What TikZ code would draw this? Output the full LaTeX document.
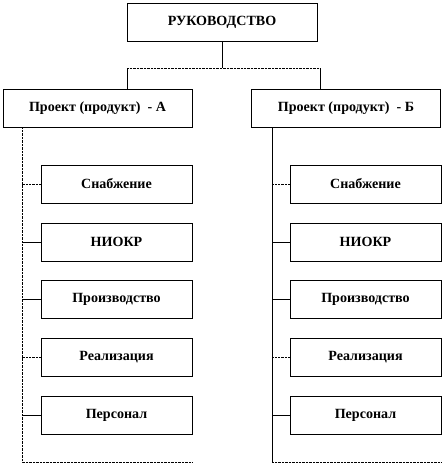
\documentclass[tikz,border=0pt]{standalone}
\usepackage{fontspec}
\setmainfont{Liberation Serif}
\usetikzlibrary{positioning,calc}
\tikzset{
  unit/.style={draw,line width=0.6pt,minimum height=1.14cm,inner sep=0pt,
    font=\fontsize{12}{14}\selectfont\bfseries},
  head/.style={unit,minimum width=5.7cm},
  proj/.style={unit,minimum width=5.67cm},
  dept/.style={unit,minimum width=4.53cm},
  link/.style={line width=0.6pt},
  fdot/.style={line width=0.6pt,dash pattern=on 0.6pt off 0.6pt},
}
\begin{document}
\begin{tikzpicture}[x=0.03cm,y=-0.03cm]
  \useasboundingbox (0,0) rectangle (446,465);
  % top level
  \node[head] (ruk) at (222,22) {РУКОВОДСТВО};
  \node[proj] (pa) at (97.5,108) {Проект (продукт)\ \ - А};
  \node[proj] (pb) at (346,108) {Проект (продукт)\ \ - Б};
  \coordinate (bar) at (222,68);
  \coordinate (dropA) at (127,68);
  \coordinate (dropB) at (320,68);
  \draw[link] (ruk.south) -- (bar);
  \draw[fdot] (dropA) -- (dropB);
  \draw[link] (dropA) -- (dropA |- pa.north);
  \draw[link] (dropB) -- (dropB |- pb.north);
  % spines
  \coordinate (spA) at (22,127);
  \coordinate (endA) at (22,462);
  \coordinate (spB) at (272,127);
  \coordinate (endB) at (272,462);
  \draw[fdot] (spA) -- (endA) -- (endA -| pa.east);
  \draw[link] (spB) -- (endB);
  \draw[fdot] (endB) -- (endB -| pb.east);
  % departments
  \foreach \n/\t/\y/\s in {1/Снабжение/184/fdot, 2/НИОКР/242/link,
      3/Производство/299/link, 4/Реализация/357/fdot, 5/Персонал/415/link} {
    \node[dept] (a\n) at (116.5,\y) {\t};
    \node[dept] (b\n) at (365.5,\y) {\t};
    \draw[\s] (a\n.west) -- (a\n.west -| spA);
    \draw[\s] (b\n.west) -- (b\n.west -| spB);
  }
\end{tikzpicture}
\end{document}
